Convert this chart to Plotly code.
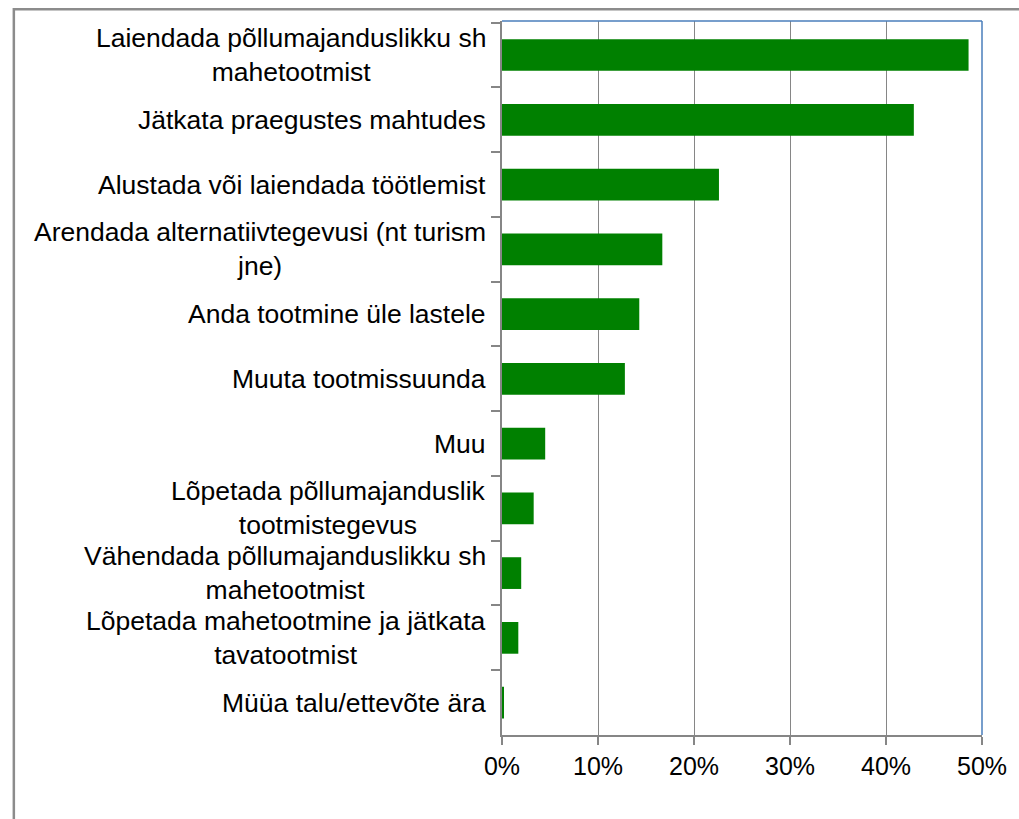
import plotly.graph_objects as go

categories = [
    "Laiendada põllumajanduslikku sh<br>mahetootmist",
    "Jätkata praegustes mahtudes",
    "Alustada või laiendada töötlemist",
    "Arendada alternatiivtegevusi (nt turism<br>jne)",
    "Anda tootmine üle lastele",
    "Muuta tootmissuunda",
    "Muu",
    "Lõpetada põllumajanduslik<br>tootmistegevus",
    "Vähendada põllumajanduslikku sh<br>mahetootmist",
    "Lõpetada mahetootmine ja jätkata<br>tavatootmist",
    "Müüa talu/ettevõte ära",
]
values = [48.6, 42.9, 22.6, 16.7, 14.3, 12.8, 4.5, 3.3, 2.0, 1.7, 0.15]
x_ticks = [0, 10, 20, 30, 40, 50]
x_tick_labels = ["0%", "10%", "20%", "30%", "40%", "50%"]

FONT = "Liberation Sans, Arial, sans-serif"
GRAY = "#868686"
BLUE = "#4A7EBB"

fig = go.Figure()
fig.add_trace(go.Bar(
    x=values, y=categories, orientation="h",
    marker=dict(color="#008000", line=dict(width=0)),
    hoverinfo="x+y",
))

for cat in categories:
    fig.add_annotation(
        x=0, xref="paper", y=cat, yref="y",
        text=cat, showarrow=False, xanchor="right", yanchor="middle",
        align="center", xshift=-14,
        font=dict(family=FONT, size=26.5, color="#000000"),
    )

# plot-area top and right border (blue)
fig.add_shape(type="line", xref="paper", yref="paper", x0=0, x1=1, y0=1, y1=1,
              line=dict(color=BLUE, width=1.5))
fig.add_shape(type="line", xref="paper", yref="paper", x0=1, x1=1, y0=0, y1=1,
              line=dict(color=BLUE, width=1.5))
# outer chart frame
fig.add_shape(type="rect", xref="paper", yref="paper",
              x0=-1.017, x1=1.1, y0=-0.2, y1=1.0165,
              line=dict(color="#8C8C8C", width=2.5), layer="below")

fig.update_layout(
    width=1019, height=819,
    margin=dict(l=502, r=30, t=21, b=84),
    paper_bgcolor="white", plot_bgcolor="white",
    bargap=0.51, showlegend=False,
    font=dict(family=FONT, color="#000000"),
    xaxis=dict(
        range=[0, 50], tickvals=x_ticks, ticktext=x_tick_labels,
        showgrid=True, gridcolor=GRAY, gridwidth=1,
        showline=True, linecolor=GRAY, linewidth=1.5,
        ticks="outside", ticklen=8, tickcolor=GRAY, tickwidth=1.5,
        tickfont=dict(family=FONT, size=25, color="#000000"),
        zeroline=False, fixedrange=True,
    ),
    yaxis=dict(
        autorange="reversed", type="category",
        showticklabels=False,
        showline=True, linecolor=GRAY, linewidth=1.5,
        ticks="outside", tickson="boundaries", ticklen=9, tickcolor=GRAY, tickwidth=1.5,
        showgrid=False, fixedrange=True,
    ),
)

fig.write_html(
    "out.html",
    config={"displayModeBar": False},
    post_script="document.body.style.margin='0';document.body.style.overflow='hidden';",
)
